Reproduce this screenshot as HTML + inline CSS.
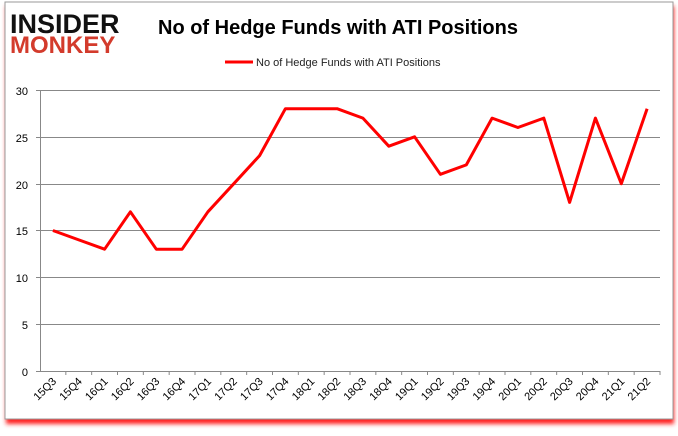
<!DOCTYPE html>
<html><head><style>
body{margin:0;background:#fff;width:678px;height:431px;overflow:hidden;font-family:"Liberation Sans",sans-serif}
</style></head><body>
<svg width="678" height="431" xmlns="http://www.w3.org/2000/svg">
<defs><filter id="f" x="-5%" y="-5%" width="110%" height="115%"><feGaussianBlur stdDeviation="2"/></filter></defs>
<rect x="6" y="6" width="668" height="418" fill="#ff2020" filter="url(#f)"/>
<rect x="5" y="2" width="668" height="417" fill="#fff" stroke="#999" stroke-width="1"/>
<text x="10" y="33" font-size="27" font-weight="bold" fill="#111" letter-spacing="0" style="font-family:'Liberation Sans',sans-serif">INSIDER</text>
<text x="10" y="53" font-size="24" font-weight="bold" fill="#d33b2c">MONKEY</text>
<text x="338" y="34" font-size="20" font-weight="bold" text-anchor="middle" fill="#000">No of Hedge Funds with ATI Positions</text>
<line x1="225" y1="62" x2="253" y2="62" stroke="#f00" stroke-width="3"/>
<text x="256" y="66" font-size="11" fill="#222">No of Hedge Funds with ATI Positions</text>
<g stroke="#888" stroke-width="1">
<line x1="40" y1="90.5" x2="660" y2="90.5"/><line x1="40" y1="137.5" x2="660" y2="137.5"/>
<line x1="40" y1="184.5" x2="660" y2="184.5"/><line x1="40" y1="230.5" x2="660" y2="230.5"/>
<line x1="40" y1="277.5" x2="660" y2="277.5"/><line x1="40" y1="324.5" x2="660" y2="324.5"/>
<line x1="40" y1="371.5" x2="660" y2="371.5"/><line x1="40.5" y1="90" x2="40.5" y2="371"/>
<line x1="36" y1="90.5" x2="40" y2="90.5"/><line x1="36" y1="137.5" x2="40" y2="137.5"/><line x1="36" y1="184.5" x2="40" y2="184.5"/><line x1="36" y1="230.5" x2="40" y2="230.5"/><line x1="36" y1="277.5" x2="40" y2="277.5"/><line x1="36" y1="324.5" x2="40" y2="324.5"/><line x1="36" y1="371.5" x2="40" y2="371.5"/>
</g>
<g font-size="11" fill="#000" text-anchor="end">
<text x="28" y="95">30</text><text x="28" y="142">25</text><text x="28" y="189">20</text><text x="28" y="235">15</text><text x="28" y="282">10</text><text x="28" y="329">5</text><text x="28" y="376">0</text>
</g>
<g id="t"></g>
<polyline id="p" fill="none" stroke="#f00" stroke-width="3" stroke-linejoin="round"/>
</svg>
<script>
var d=[15,14,13,17,13,13,17,20,23,28,28,28,27,24,25,21,22,27,26,27,18,27,20,28];
var L=["15Q3","15Q4","16Q1","16Q2","16Q3","16Q4","17Q1","17Q2","17Q3","17Q4","18Q1","18Q2","18Q3","18Q4","19Q1","19Q2","19Q3","19Q4","20Q1","20Q2","20Q3","20Q4","21Q1","21Q2"];
var w=620/24,pts=[],g=document.getElementById('t'),h='';
for(var i=0;i<24;i++){var x=40+w*(i+0.5);pts.push(x.toFixed(1)+','+(371-d[i]*281/30).toFixed(1));
var tx=40+w*(i+1);h+='<line x1="'+tx+'" y1="371" x2="'+tx+'" y2="375" stroke="#888"/>';
h+='<text x="'+(x+4)+'" y="382" font-size="11" text-anchor="end" transform="rotate(-45 '+(x+4)+' 382)">'+L[i]+'</text>';}
g.innerHTML=h;document.getElementById('p').setAttribute('points',pts.join(' '));
</script>
</body></html>
